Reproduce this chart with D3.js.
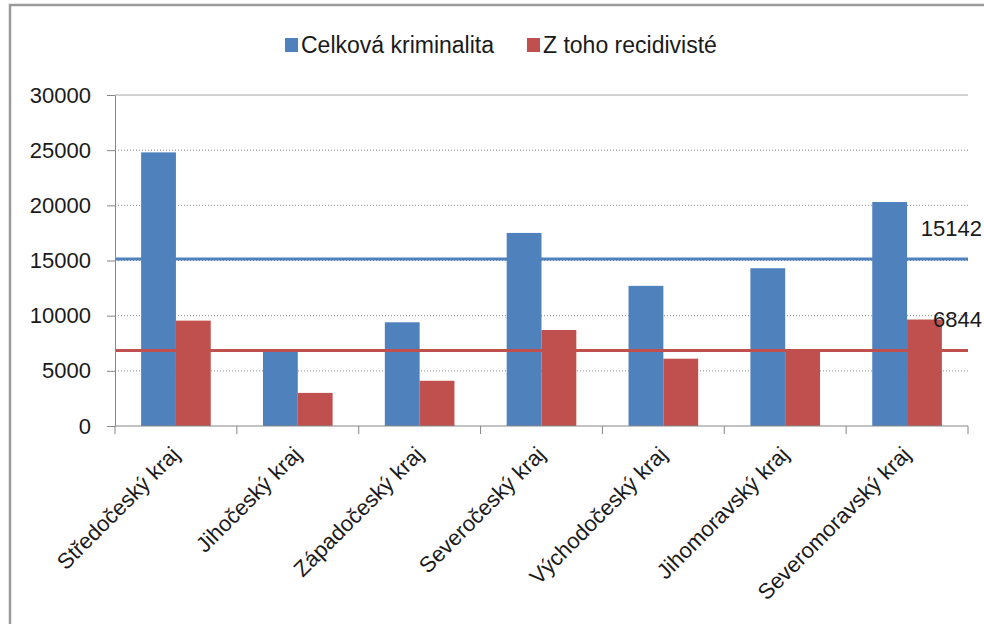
<!DOCTYPE html>
<html>
<head>
<meta charset="utf-8">
<script src="https://cdn.jsdelivr.net/npm/d3@7"></script>
<style>
  body { margin: 0; background: #fff; }
  text { font-family: "Liberation Sans", Arial, sans-serif; fill: #1a1a1a; }
</style>
</head>
<body>
<div id="chart"></div>
<script>
// data
var categories = ["Středočeský kraj", "Jihočeský kraj", "Západočeský kraj", "Severočeský kraj",
                  "Východočeský kraj", "Jihomoravský kraj", "Severomoravský kraj"];
var series = ["Celková kriminalita", "Z toho recidivisté"];
var celkova = [24800, 6800, 9400, 17500, 12700, 14300, 20300];
var recidiviste = [9550, 3000, 4100, 8700, 6100, 6850, 9650];
var prumery = [15142, 6844];
var yTicks = [0, 5000, 10000, 15000, 20000, 25000, 30000];
var colors = ["#4F81BD", "#C0504D"];

var W = 984, H = 624;
var margin = {top: 95, right: 16, bottom: 198, left: 115},
    width = W - margin.left - margin.right,
    height = H - margin.top - margin.bottom;

var svg = d3.select("#chart").append("svg")
    .attr("width", W)
    .attr("height", H);

// chart frame
svg.append("rect")
    .attr("x", 10).attr("y", 5)
    .attr("width", W - 8).attr("height", H + 10)
    .attr("fill", "#fff")
    .attr("stroke", "#9a9a9a")
    .attr("stroke-width", 2.5);

var g = svg.append("g")
    .attr("transform", "translate(" + margin.left + "," + margin.top + ")");

var x0 = d3.scaleBand().domain(categories).range([0, width]).padding(0);
var x1 = d3.scaleBand().domain(series).range([0, x0.bandwidth()]).paddingInner(0).paddingOuter(0.75);
var y = d3.scaleLinear().domain([0, 30000]).range([height, 0]);

// gridlines
g.selectAll(".grid")
    .data(yTicks.slice(1))
    .enter().append("line")
    .attr("x1", 0).attr("x2", width)
    .attr("y1", function(d) { return y(d); })
    .attr("y2", function(d) { return y(d); })
    .attr("stroke", function(d) { return d === 30000 ? "#a6a6a6" : "#8c8c8c"; })
    .attr("stroke-width", 1)
    .attr("stroke-dasharray", function(d) { return d === 30000 ? null : "1,2"; });

// bars
var rows = categories.map(function(c, i) {
  return {cat: c, values: [celkova[i], recidiviste[i]]};
});

var groups = g.selectAll(".group")
    .data(rows)
    .enter().append("g")
    .attr("transform", function(d) { return "translate(" + x0(d.cat) + ",0)"; });

groups.selectAll("rect")
    .data(function(d) { return d.values.map(function(v, j) { return {s: series[j], v: v, j: j}; }); })
    .enter().append("rect")
    .attr("x", function(d) { return x1(d.s); })
    .attr("width", x1.bandwidth())
    .attr("y", function(d) { return y(d.v); })
    .attr("height", function(d) { return height - y(d.v); })
    .attr("fill", function(d) { return colors[d.j]; });

// average lines
g.selectAll(".mean")
    .data(prumery)
    .enter().append("line")
    .attr("x1", 0).attr("x2", width)
    .attr("y1", function(d) { return y(d); })
    .attr("y2", function(d) { return y(d); })
    .attr("stroke", function(d, i) { return colors[i]; })
    .attr("stroke-width", 3);

g.selectAll(".meanLabel")
    .data(prumery)
    .enter().append("text")
    .attr("x", width + 14)
    .attr("y", function(d) { return y(d) - 31; })
    .attr("dy", "0.35em")
    .attr("text-anchor", "end")
    .style("font-size", "22px")
    .text(function(d) { return d; });

// y axis
var yAxis = g.append("g")
    .call(d3.axisLeft(y).tickValues(yTicks).tickFormat(d3.format("d"))
      .tickSize(8).tickPadding(16).tickSizeOuter(0));
yAxis.select(".domain").attr("stroke", "#868686");
yAxis.selectAll(".tick line").attr("stroke", "#868686");
yAxis.selectAll("text").style("font-size", "22px").attr("fill", "#1a1a1a");

// x axis with ticks between categories
var xAxis = g.append("g")
    .attr("transform", "translate(0," + height + ")");
xAxis.append("line")
    .attr("x1", 0).attr("x2", width)
    .attr("stroke", "#868686");
xAxis.selectAll(".bound")
    .data(d3.range(categories.length + 1))
    .enter().append("line")
    .attr("x1", function(i) { return i * x0.step(); })
    .attr("x2", function(i) { return i * x0.step(); })
    .attr("y1", 0).attr("y2", 8)
    .attr("stroke", "#868686");
xAxis.selectAll(".lab")
    .data(categories)
    .enter().append("text")
    .attr("transform", function(d) {
      return "translate(" + (x0(d) + x0.bandwidth() / 2 + 5) + "," + 30 + ") rotate(-45)";
    })
    .attr("text-anchor", "end")
    .style("font-size", "22px")
    .text(function(d) { return d; });

// legend
var legendX = [285, 527];
var legend = svg.selectAll(".legend")
    .data(series)
    .enter().append("g")
    .attr("transform", function(d, i) { return "translate(" + legendX[i] + ",38)"; });
legend.append("rect")
    .attr("width", 13).attr("height", 14)
    .attr("fill", function(d, i) { return colors[i]; });
legend.append("text")
    .attr("x", 16).attr("y", 7)
    .attr("dy", "0.35em")
    .style("font-size", "23px")
    .text(function(d) { return d; });
</script>
</body>
</html>
